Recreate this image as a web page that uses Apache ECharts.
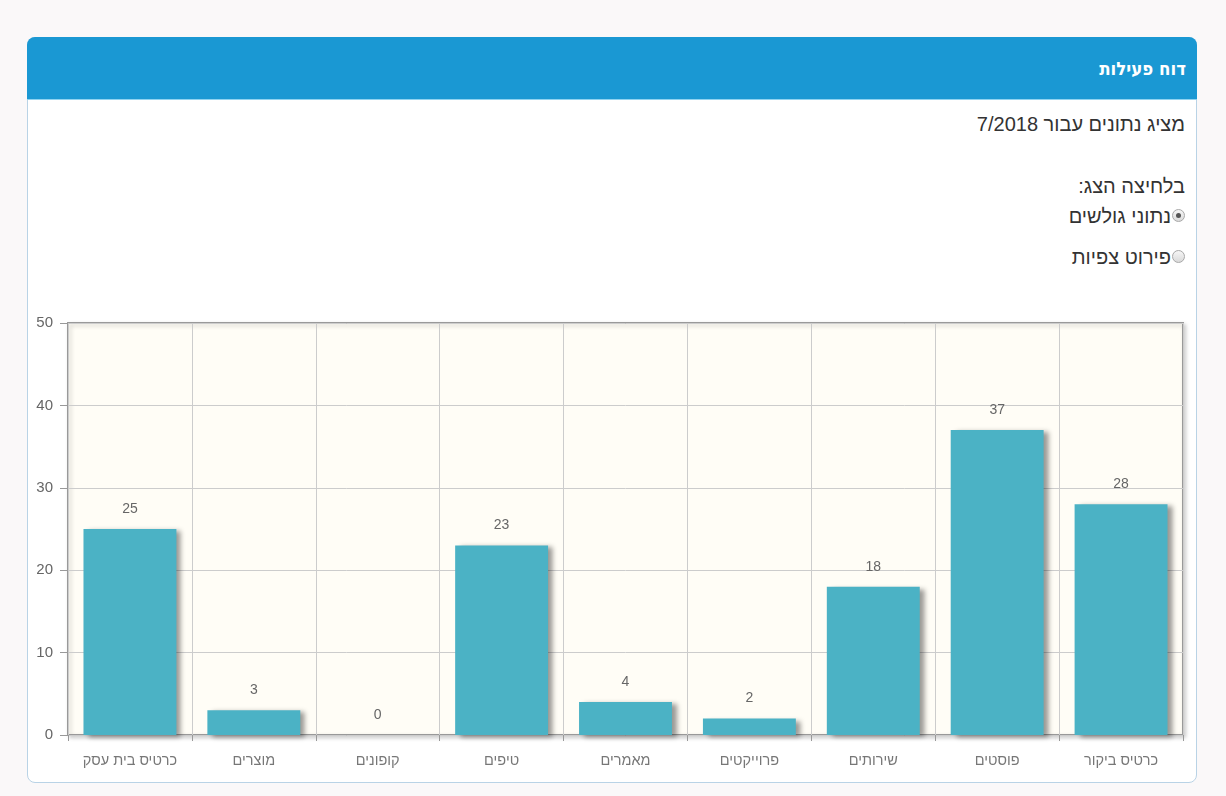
<!DOCTYPE html>
<html>
<head>
<meta charset="utf-8">
<script src="https://cdn.jsdelivr.net/npm/echarts@6/dist/echarts.min.js"></script>
<style>
  html, body { margin:0; padding:0; width:1226px; height:796px; background:#faf8f9; overflow:hidden;
    font-family:"Liberation Sans", Arial, sans-serif; }
  #panel { position:absolute; left:27px; top:37px; width:1170px; height:746px; background:#fff;
    border:1px solid #b9d3e6; border-radius:8px; box-sizing:border-box; }
  #header { position:absolute; left:-1px; top:-1px; width:1170px; height:63px; background:#1a98d3;
    border-radius:8px 8px 0 0; border-bottom:1px solid #8fd3f0; box-sizing:border-box; }
  .t { position:absolute; right:41px; direction:rtl; white-space:nowrap; color:#333; font-size:20px; line-height:20px; }
  #title { position:absolute; right:40px; top:59px; color:#fff; font-size:18.5px; line-height:20px; font-weight:bold; direction:rtl;
    font-family:"DejaVu Sans Condensed","DejaVu Sans","Liberation Sans",sans-serif; }
  .radio { display:inline-block; width:13px; height:13px; border:1px solid #a8a8a8; border-radius:50%;
    background:linear-gradient(#f6f6f6,#dadada); box-sizing:border-box; vertical-align:1px; margin-left:1px; position:relative; }
  .radio.on::after { content:""; position:absolute; left:3px; top:3px; width:5px; height:5px; border-radius:50%; background:#555; }
  #chart { position:absolute; left:0; top:0; width:1226px; height:796px; }
</style>
</head>
<body>
<div id="panel"><div id="header"></div></div>
<div id="title">דוח פעילות</div>
<div class="t" style="top:114px;">מציג נתונים עבור 7/2018</div>
<div class="t" style="top:176px;">בלחיצה הצג:</div>
<div class="t" style="top:206px;"><span class="radio on"></span>נתוני גולשים</div>
<div class="t" style="top:247px;"><span class="radio"></span>פירוט צפיות</div>
<div id="chart"></div>
<script>
const categories = ["כרטיס בית עסק", "מוצרים", "קופונים", "טיפים", "מאמרים", "פרוייקטים", "שירותים", "פוסטים", "כרטיס ביקור"];
const values = [25, 3, 0, 23, 4, 2, 18, 37, 28];
const yTicks = { min: 0, max: 50, interval: 10 };

const chart = echarts.init(document.getElementById('chart'), null, { renderer: 'canvas' });
chart.setOption({
  backgroundColor: 'transparent',
  animation: false,
  grid: {
    left: 68, top: 323, width: 1115, height: 412,
    show: true, backgroundColor: '#fffdf6', borderColor: '#999', borderWidth: 2,
    shadowColor: 'rgba(0,0,0,0.18)', shadowBlur: 4, shadowOffsetX: 2, shadowOffsetY: 2
  },
  xAxis: {
    type: 'category', data: categories, boundaryGap: true,
    axisLine: { show: false },
    axisTick: { show: true, alignWithLabel: false, length: 6, lineStyle: { color: '#999' } },
    axisLabel: { color: '#777', fontSize: 14.5, margin: 18, fontFamily: 'Liberation Sans, Arial, sans-serif' },
    splitLine: { show: true, lineStyle: { color: '#cccccc', width: 1 } }
  },
  yAxis: {
    type: 'value', min: yTicks.min, max: yTicks.max, interval: yTicks.interval,
    axisLine: { show: false },
    axisTick: { show: true, length: 8, inside: false, lineStyle: { color: '#999' } },
    axisLabel: { color: '#666', fontSize: 15, margin: 15, fontFamily: 'Liberation Sans, Arial, sans-serif' },
    splitLine: { show: true, lineStyle: { color: '#cccccc', width: 1 } }
  },
  series: [{
    type: 'bar', data: values, barCategoryGap: '25%',
    itemStyle: { color: '#4bb2c5', shadowColor: 'rgba(0,0,0,0.4)', shadowBlur: 5, shadowOffsetX: 5, shadowOffsetY: 2 },
    label: { show: true, position: 'top', distance: 13, color: '#666', fontSize: 14, fontFamily: 'Liberation Sans, Arial, sans-serif' }
  }]
});
</script>
</body>
</html>
